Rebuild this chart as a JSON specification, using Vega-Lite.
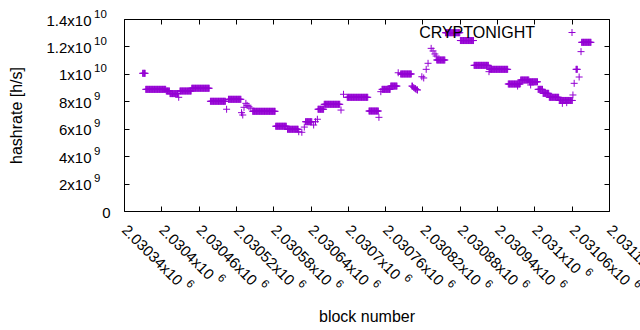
{
"$schema": "https://vega.github.io/schema/vega-lite/v6.json",
"width": 485, "height": 192,
"autosize": "none",
"padding": {"left": 124, "top": 19, "right": 31, "bottom": 119},
"background": "white",
"config": {
  "font": "Liberation Sans",
  "view": {"stroke": "black", "strokeWidth": 1},
  "axis": {"domain": false, "grid": false, "tickColor": "black", "tickSize": -5, "tickWidth": 1,
           "labelColor": "black", "labelFont": "Liberation Sans", "labelFontSize": 15, "labelFlush": false, "labelOverlap": false, "labelBound": false,
           "titleColor": "black", "titleFont": "Liberation Sans", "titleFontSize": 16, "titleFontWeight": "normal"}
},
"data": {"values": [
{"block":2030370,"hashrate":1.004e10},{"block":2030371,"hashrate":1.004e10},{"block":2030372,"hashrate":1.004e10},{"block":2030373,"hashrate":1.004e10},{"block":2030374,"hashrate":1.004e10},
{"block":2030375,"hashrate":8.87e9},{"block":2030376,"hashrate":8.87e9},{"block":2030377,"hashrate":8.87e9},{"block":2030378,"hashrate":8.87e9},{"block":2030379,"hashrate":8.87e9},{"block":2030380,"hashrate":8.87e9},{"block":2030381,"hashrate":8.87e9},{"block":2030382,"hashrate":8.87e9},{"block":2030383,"hashrate":8.87e9},{"block":2030384,"hashrate":8.87e9},{"block":2030385,"hashrate":8.87e9},{"block":2030386,"hashrate":8.87e9},{"block":2030387,"hashrate":8.87e9},{"block":2030388,"hashrate":8.87e9},{"block":2030389,"hashrate":8.87e9},{"block":2030390,"hashrate":8.87e9},{"block":2030391,"hashrate":8.87e9},{"block":2030392,"hashrate":8.87e9},{"block":2030393,"hashrate":8.87e9},{"block":2030394,"hashrate":8.87e9},{"block":2030395,"hashrate":8.87e9},{"block":2030396,"hashrate":8.87e9},{"block":2030397,"hashrate":8.87e9},{"block":2030398,"hashrate":8.87e9},{"block":2030399,"hashrate":8.87e9},{"block":2030400,"hashrate":8.87e9},{"block":2030401,"hashrate":8.87e9},{"block":2030402,"hashrate":8.87e9},{"block":2030403,"hashrate":8.87e9},{"block":2030404,"hashrate":8.87e9},{"block":2030405,"hashrate":8.87e9},{"block":2030406,"hashrate":8.87e9},{"block":2030407,"hashrate":8.87e9},
{"block":2030408,"hashrate":8.75e9},{"block":2030409,"hashrate":8.75e9},{"block":2030410,"hashrate":8.75e9},{"block":2030411,"hashrate":8.75e9},{"block":2030412,"hashrate":8.75e9},{"block":2030413,"hashrate":8.75e9},
{"block":2030414,"hashrate":8.56e9},{"block":2030415,"hashrate":8.56e9},{"block":2030416,"hashrate":8.56e9},{"block":2030417,"hashrate":8.56e9},{"block":2030418,"hashrate":8.56e9},{"block":2030419,"hashrate":8.56e9},{"block":2030420,"hashrate":8.56e9},{"block":2030421,"hashrate":8.56e9},{"block":2030422,"hashrate":8.56e9},{"block":2030423,"hashrate":8.56e9},{"block":2030424,"hashrate":8.56e9},{"block":2030425,"hashrate":8.56e9},{"block":2030426,"hashrate":8.56e9},{"block":2030427,"hashrate":8.56e9},
{"block":2030428,"hashrate":8.29e9},
{"block":2030430,"hashrate":8.75e9},{"block":2030431,"hashrate":8.75e9},{"block":2030432,"hashrate":8.75e9},{"block":2030433,"hashrate":8.75e9},{"block":2030434,"hashrate":8.75e9},{"block":2030435,"hashrate":8.75e9},{"block":2030436,"hashrate":8.75e9},{"block":2030437,"hashrate":8.75e9},{"block":2030438,"hashrate":8.75e9},{"block":2030439,"hashrate":8.75e9},{"block":2030440,"hashrate":8.75e9},{"block":2030441,"hashrate":8.75e9},{"block":2030442,"hashrate":8.75e9},{"block":2030443,"hashrate":8.75e9},{"block":2030444,"hashrate":8.75e9},{"block":2030445,"hashrate":8.75e9},{"block":2030446,"hashrate":8.75e9},{"block":2030447,"hashrate":8.75e9},{"block":2030448,"hashrate":8.75e9},
{"block":2030449,"hashrate":8.95e9},{"block":2030450,"hashrate":8.95e9},{"block":2030451,"hashrate":8.95e9},{"block":2030452,"hashrate":8.95e9},{"block":2030453,"hashrate":8.95e9},{"block":2030454,"hashrate":8.95e9},{"block":2030455,"hashrate":8.95e9},{"block":2030456,"hashrate":8.95e9},{"block":2030457,"hashrate":8.95e9},{"block":2030458,"hashrate":8.95e9},{"block":2030459,"hashrate":8.95e9},{"block":2030460,"hashrate":8.95e9},{"block":2030461,"hashrate":8.95e9},{"block":2030462,"hashrate":8.95e9},{"block":2030463,"hashrate":8.95e9},{"block":2030464,"hashrate":8.95e9},{"block":2030465,"hashrate":8.95e9},{"block":2030466,"hashrate":8.95e9},{"block":2030467,"hashrate":8.95e9},{"block":2030468,"hashrate":8.95e9},{"block":2030469,"hashrate":8.95e9},{"block":2030470,"hashrate":8.95e9},{"block":2030471,"hashrate":8.95e9},{"block":2030472,"hashrate":8.95e9},{"block":2030473,"hashrate":8.95e9},{"block":2030474,"hashrate":8.95e9},{"block":2030475,"hashrate":8.95e9},{"block":2030476,"hashrate":8.95e9},{"block":2030477,"hashrate":8.95e9},
{"block":2030479,"hashrate":8.0e9},{"block":2030480,"hashrate":8.0e9},{"block":2030481,"hashrate":8.0e9},{"block":2030482,"hashrate":8.0e9},{"block":2030483,"hashrate":8.0e9},{"block":2030484,"hashrate":8.0e9},{"block":2030485,"hashrate":8.0e9},{"block":2030486,"hashrate":8.0e9},{"block":2030487,"hashrate":8.0e9},{"block":2030488,"hashrate":8.0e9},{"block":2030489,"hashrate":8.0e9},{"block":2030490,"hashrate":8.0e9},{"block":2030491,"hashrate":8.0e9},{"block":2030492,"hashrate":8.0e9},{"block":2030493,"hashrate":8.0e9},{"block":2030494,"hashrate":8.0e9},{"block":2030495,"hashrate":8.0e9},{"block":2030496,"hashrate":8.0e9},{"block":2030497,"hashrate":8.0e9},{"block":2030498,"hashrate":8.0e9},{"block":2030499,"hashrate":8.0e9},{"block":2030500,"hashrate":8.0e9},{"block":2030501,"hashrate":8.0e9},{"block":2030502,"hashrate":8.0e9},{"block":2030503,"hashrate":8.0e9},
{"block":2030505,"hashrate":7.42e9},
{"block":2030508,"hashrate":8.145e9},{"block":2030509,"hashrate":8.145e9},{"block":2030510,"hashrate":8.145e9},{"block":2030511,"hashrate":8.145e9},{"block":2030512,"hashrate":8.145e9},{"block":2030513,"hashrate":8.145e9},{"block":2030514,"hashrate":8.145e9},{"block":2030515,"hashrate":8.145e9},{"block":2030516,"hashrate":8.145e9},{"block":2030517,"hashrate":8.145e9},{"block":2030518,"hashrate":8.145e9},{"block":2030519,"hashrate":8.145e9},{"block":2030520,"hashrate":8.145e9},{"block":2030521,"hashrate":8.145e9},{"block":2030522,"hashrate":8.145e9},{"block":2030523,"hashrate":8.145e9},{"block":2030524,"hashrate":8.145e9},{"block":2030525,"hashrate":8.145e9},{"block":2030526,"hashrate":8.145e9},{"block":2030527,"hashrate":8.145e9},{"block":2030528,"hashrate":8.145e9},
{"block":2030529,"hashrate":7.17e9},{"block":2030531,"hashrate":7.0e9},{"block":2030533,"hashrate":7.56e9},{"block":2030536,"hashrate":7.85e9},{"block":2030538,"hashrate":7.7e9},{"block":2030541,"hashrate":7.6e9},{"block":2030544,"hashrate":7.5e9},
{"block":2030547,"hashrate":7.27e9},{"block":2030548,"hashrate":7.27e9},{"block":2030549,"hashrate":7.27e9},{"block":2030550,"hashrate":7.27e9},{"block":2030551,"hashrate":7.27e9},{"block":2030552,"hashrate":7.27e9},{"block":2030553,"hashrate":7.27e9},{"block":2030554,"hashrate":7.27e9},{"block":2030555,"hashrate":7.27e9},{"block":2030556,"hashrate":7.27e9},{"block":2030557,"hashrate":7.27e9},{"block":2030558,"hashrate":7.27e9},{"block":2030559,"hashrate":7.27e9},{"block":2030560,"hashrate":7.27e9},{"block":2030561,"hashrate":7.27e9},{"block":2030562,"hashrate":7.27e9},{"block":2030563,"hashrate":7.27e9},{"block":2030564,"hashrate":7.27e9},{"block":2030565,"hashrate":7.27e9},{"block":2030566,"hashrate":7.27e9},{"block":2030567,"hashrate":7.27e9},{"block":2030568,"hashrate":7.27e9},{"block":2030569,"hashrate":7.27e9},{"block":2030570,"hashrate":7.27e9},{"block":2030571,"hashrate":7.27e9},{"block":2030572,"hashrate":7.27e9},{"block":2030573,"hashrate":7.27e9},{"block":2030574,"hashrate":7.27e9},{"block":2030575,"hashrate":7.27e9},{"block":2030576,"hashrate":7.27e9},{"block":2030577,"hashrate":7.27e9},{"block":2030578,"hashrate":7.27e9},{"block":2030579,"hashrate":7.27e9},{"block":2030580,"hashrate":7.27e9},{"block":2030581,"hashrate":7.27e9},{"block":2030582,"hashrate":7.27e9},{"block":2030583,"hashrate":7.27e9},
{"block":2030584,"hashrate":6.18e9},{"block":2030585,"hashrate":6.18e9},{"block":2030586,"hashrate":6.18e9},{"block":2030587,"hashrate":6.18e9},{"block":2030588,"hashrate":6.18e9},{"block":2030589,"hashrate":6.18e9},{"block":2030590,"hashrate":6.18e9},{"block":2030591,"hashrate":6.18e9},{"block":2030592,"hashrate":6.18e9},{"block":2030593,"hashrate":6.18e9},{"block":2030594,"hashrate":6.18e9},{"block":2030595,"hashrate":6.18e9},{"block":2030596,"hashrate":6.18e9},{"block":2030597,"hashrate":6.18e9},{"block":2030598,"hashrate":6.18e9},{"block":2030599,"hashrate":6.18e9},{"block":2030600,"hashrate":6.18e9},{"block":2030601,"hashrate":6.18e9},
{"block":2030603,"hashrate":5.96e9},{"block":2030604,"hashrate":5.96e9},{"block":2030605,"hashrate":5.96e9},{"block":2030606,"hashrate":5.96e9},{"block":2030607,"hashrate":5.96e9},{"block":2030608,"hashrate":5.96e9},{"block":2030609,"hashrate":5.96e9},{"block":2030610,"hashrate":5.96e9},{"block":2030611,"hashrate":5.96e9},{"block":2030612,"hashrate":5.96e9},{"block":2030613,"hashrate":5.96e9},{"block":2030614,"hashrate":5.96e9},{"block":2030615,"hashrate":5.96e9},{"block":2030616,"hashrate":5.96e9},{"block":2030617,"hashrate":5.96e9},{"block":2030618,"hashrate":5.96e9},{"block":2030619,"hashrate":5.96e9},{"block":2030620,"hashrate":5.96e9},
{"block":2030621,"hashrate":5.78e9},{"block":2030626,"hashrate":5.74e9},{"block":2030630,"hashrate":6.12e9},
{"block":2030632,"hashrate":6.51e9},{"block":2030633,"hashrate":6.51e9},{"block":2030634,"hashrate":6.51e9},{"block":2030635,"hashrate":6.51e9},{"block":2030636,"hashrate":6.51e9},{"block":2030637,"hashrate":6.51e9},{"block":2030638,"hashrate":6.51e9},{"block":2030639,"hashrate":6.51e9},{"block":2030640,"hashrate":6.51e9},{"block":2030641,"hashrate":6.51e9},{"block":2030642,"hashrate":6.51e9},
{"block":2030645,"hashrate":6.27e9},{"block":2030648,"hashrate":6.51e9},{"block":2030651,"hashrate":6.69e9},
{"block":2030652,"hashrate":7.42e9},{"block":2030653,"hashrate":7.42e9},{"block":2030654,"hashrate":7.42e9},{"block":2030655,"hashrate":7.42e9},{"block":2030656,"hashrate":7.42e9},{"block":2030657,"hashrate":7.42e9},{"block":2030658,"hashrate":7.42e9},{"block":2030659,"hashrate":7.42e9},{"block":2030660,"hashrate":7.42e9},{"block":2030661,"hashrate":7.42e9},
{"block":2030662,"hashrate":7.78e9},{"block":2030663,"hashrate":7.78e9},{"block":2030664,"hashrate":7.78e9},{"block":2030665,"hashrate":7.78e9},{"block":2030666,"hashrate":7.78e9},{"block":2030667,"hashrate":7.78e9},{"block":2030668,"hashrate":7.78e9},{"block":2030669,"hashrate":7.78e9},{"block":2030670,"hashrate":7.78e9},{"block":2030671,"hashrate":7.78e9},{"block":2030672,"hashrate":7.78e9},{"block":2030673,"hashrate":7.78e9},{"block":2030674,"hashrate":7.78e9},{"block":2030675,"hashrate":7.78e9},{"block":2030676,"hashrate":7.78e9},{"block":2030677,"hashrate":7.78e9},{"block":2030678,"hashrate":7.78e9},{"block":2030679,"hashrate":7.78e9},{"block":2030680,"hashrate":7.78e9},{"block":2030681,"hashrate":7.78e9},{"block":2030682,"hashrate":7.78e9},{"block":2030683,"hashrate":7.78e9},{"block":2030684,"hashrate":7.78e9},{"block":2030685,"hashrate":7.78e9},{"block":2030686,"hashrate":7.78e9},{"block":2030687,"hashrate":7.78e9},
{"block":2030689,"hashrate":7.36e9},{"block":2030693,"hashrate":8.51e9},
{"block":2030699,"hashrate":8.29e9},{"block":2030700,"hashrate":8.29e9},{"block":2030701,"hashrate":8.29e9},{"block":2030702,"hashrate":8.29e9},{"block":2030703,"hashrate":8.29e9},{"block":2030704,"hashrate":8.29e9},{"block":2030705,"hashrate":8.29e9},{"block":2030706,"hashrate":8.29e9},{"block":2030707,"hashrate":8.29e9},{"block":2030708,"hashrate":8.29e9},{"block":2030709,"hashrate":8.29e9},{"block":2030710,"hashrate":8.29e9},{"block":2030711,"hashrate":8.29e9},{"block":2030712,"hashrate":8.29e9},{"block":2030713,"hashrate":8.29e9},{"block":2030714,"hashrate":8.29e9},{"block":2030715,"hashrate":8.29e9},{"block":2030716,"hashrate":8.29e9},{"block":2030717,"hashrate":8.29e9},{"block":2030718,"hashrate":8.29e9},{"block":2030719,"hashrate":8.29e9},{"block":2030720,"hashrate":8.29e9},{"block":2030721,"hashrate":8.29e9},{"block":2030722,"hashrate":8.29e9},{"block":2030723,"hashrate":8.29e9},{"block":2030724,"hashrate":8.29e9},{"block":2030725,"hashrate":8.29e9},{"block":2030726,"hashrate":8.29e9},{"block":2030727,"hashrate":8.29e9},{"block":2030728,"hashrate":8.29e9},{"block":2030729,"hashrate":8.29e9},{"block":2030730,"hashrate":8.29e9},{"block":2030731,"hashrate":8.29e9},{"block":2030732,"hashrate":8.29e9},
{"block":2030734,"hashrate":7.29e9},{"block":2030735,"hashrate":7.29e9},{"block":2030736,"hashrate":7.29e9},{"block":2030737,"hashrate":7.29e9},{"block":2030738,"hashrate":7.29e9},{"block":2030739,"hashrate":7.29e9},{"block":2030740,"hashrate":7.29e9},{"block":2030741,"hashrate":7.29e9},{"block":2030742,"hashrate":7.29e9},{"block":2030743,"hashrate":7.29e9},{"block":2030744,"hashrate":7.29e9},{"block":2030745,"hashrate":7.29e9},{"block":2030746,"hashrate":7.29e9},{"block":2030747,"hashrate":7.29e9},{"block":2030748,"hashrate":7.29e9},{"block":2030749,"hashrate":7.29e9},
{"block":2030750,"hashrate":6.83e9},{"block":2030753,"hashrate":8.7e9},
{"block":2030755,"hashrate":8.87e9},{"block":2030756,"hashrate":8.87e9},{"block":2030757,"hashrate":8.87e9},{"block":2030758,"hashrate":8.87e9},{"block":2030759,"hashrate":8.87e9},{"block":2030760,"hashrate":8.87e9},{"block":2030761,"hashrate":8.87e9},{"block":2030762,"hashrate":8.87e9},{"block":2030763,"hashrate":8.87e9},{"block":2030764,"hashrate":8.87e9},{"block":2030765,"hashrate":8.87e9},{"block":2030766,"hashrate":8.87e9},{"block":2030767,"hashrate":8.87e9},{"block":2030768,"hashrate":8.87e9},
{"block":2030769,"hashrate":9.11e9},{"block":2030770,"hashrate":9.11e9},{"block":2030771,"hashrate":9.11e9},{"block":2030772,"hashrate":9.11e9},{"block":2030773,"hashrate":9.11e9},{"block":2030774,"hashrate":9.11e9},{"block":2030775,"hashrate":9.11e9},{"block":2030776,"hashrate":9.11e9},{"block":2030777,"hashrate":9.11e9},{"block":2030778,"hashrate":9.11e9},{"block":2030779,"hashrate":9.11e9},
{"block":2030781,"hashrate":1.008e10},
{"block":2030785,"hashrate":9.99e9},{"block":2030786,"hashrate":9.99e9},{"block":2030787,"hashrate":9.99e9},{"block":2030788,"hashrate":9.99e9},{"block":2030789,"hashrate":9.99e9},{"block":2030790,"hashrate":9.99e9},{"block":2030791,"hashrate":9.99e9},{"block":2030792,"hashrate":9.99e9},{"block":2030793,"hashrate":9.99e9},{"block":2030794,"hashrate":9.99e9},{"block":2030795,"hashrate":9.99e9},{"block":2030796,"hashrate":9.99e9},{"block":2030797,"hashrate":9.99e9},{"block":2030798,"hashrate":9.99e9},{"block":2030799,"hashrate":9.99e9},{"block":2030800,"hashrate":9.99e9},{"block":2030801,"hashrate":9.99e9},{"block":2030802,"hashrate":9.99e9},
{"block":2030803,"hashrate":9.11e9},{"block":2030804,"hashrate":9.1e9},{"block":2030806,"hashrate":9.0e9},{"block":2030808,"hashrate":8.93e9},{"block":2030809,"hashrate":8.9e9},{"block":2030811,"hashrate":8.85e9},{"block":2030812,"hashrate":8.82e9},
{"block":2030819,"hashrate":9.79e9},{"block":2030822,"hashrate":9.7e9},{"block":2030826,"hashrate":1.033e10},{"block":2030829,"hashrate":1.077e10},
{"block":2030834,"hashrate":1.186e10},{"block":2030837,"hashrate":1.167e10},{"block":2030840,"hashrate":1.145e10},{"block":2030842,"hashrate":1.13e10},
{"block":2030843,"hashrate":1.101e10},{"block":2030844,"hashrate":1.101e10},{"block":2030845,"hashrate":1.101e10},{"block":2030846,"hashrate":1.101e10},{"block":2030847,"hashrate":1.101e10},{"block":2030848,"hashrate":1.101e10},{"block":2030849,"hashrate":1.101e10},{"block":2030850,"hashrate":1.101e10},{"block":2030851,"hashrate":1.101e10},{"block":2030852,"hashrate":1.101e10},{"block":2030853,"hashrate":1.101e10},{"block":2030854,"hashrate":1.101e10},{"block":2030855,"hashrate":1.101e10},{"block":2030856,"hashrate":1.101e10},
{"block":2030857,"hashrate":1.3e10},{"block":2030858,"hashrate":1.3e10},{"block":2030859,"hashrate":1.3e10},{"block":2030860,"hashrate":1.3e10},{"block":2030861,"hashrate":1.3e10},{"block":2030862,"hashrate":1.3e10},{"block":2030863,"hashrate":1.3e10},{"block":2030864,"hashrate":1.3e10},{"block":2030865,"hashrate":1.3e10},{"block":2030866,"hashrate":1.3e10},{"block":2030867,"hashrate":1.3e10},{"block":2030868,"hashrate":1.3e10},{"block":2030869,"hashrate":1.3e10},{"block":2030870,"hashrate":1.3e10},{"block":2030871,"hashrate":1.3e10},{"block":2030872,"hashrate":1.3e10},{"block":2030873,"hashrate":1.3e10},{"block":2030874,"hashrate":1.3e10},{"block":2030875,"hashrate":1.3e10},{"block":2030876,"hashrate":1.3e10},{"block":2030877,"hashrate":1.3e10},{"block":2030878,"hashrate":1.3e10},{"block":2030879,"hashrate":1.3e10},{"block":2030880,"hashrate":1.3e10},
{"block":2030881,"hashrate":1.243e10},{"block":2030882,"hashrate":1.243e10},{"block":2030883,"hashrate":1.243e10},{"block":2030884,"hashrate":1.243e10},{"block":2030885,"hashrate":1.243e10},{"block":2030886,"hashrate":1.243e10},{"block":2030887,"hashrate":1.243e10},{"block":2030888,"hashrate":1.243e10},{"block":2030889,"hashrate":1.243e10},{"block":2030890,"hashrate":1.243e10},{"block":2030891,"hashrate":1.243e10},{"block":2030892,"hashrate":1.243e10},{"block":2030893,"hashrate":1.243e10},{"block":2030894,"hashrate":1.243e10},{"block":2030895,"hashrate":1.243e10},{"block":2030896,"hashrate":1.243e10},{"block":2030897,"hashrate":1.243e10},{"block":2030898,"hashrate":1.243e10},{"block":2030899,"hashrate":1.243e10},{"block":2030900,"hashrate":1.243e10},{"block":2030901,"hashrate":1.243e10},{"block":2030902,"hashrate":1.243e10},
{"block":2030903,"hashrate":1.062e10},{"block":2030904,"hashrate":1.062e10},{"block":2030905,"hashrate":1.062e10},{"block":2030906,"hashrate":1.062e10},{"block":2030907,"hashrate":1.062e10},{"block":2030908,"hashrate":1.062e10},{"block":2030909,"hashrate":1.062e10},{"block":2030910,"hashrate":1.062e10},{"block":2030911,"hashrate":1.062e10},{"block":2030912,"hashrate":1.062e10},{"block":2030913,"hashrate":1.062e10},{"block":2030914,"hashrate":1.062e10},{"block":2030915,"hashrate":1.062e10},{"block":2030916,"hashrate":1.062e10},{"block":2030917,"hashrate":1.062e10},{"block":2030918,"hashrate":1.062e10},{"block":2030919,"hashrate":1.062e10},{"block":2030920,"hashrate":1.062e10},{"block":2030921,"hashrate":1.062e10},{"block":2030922,"hashrate":1.062e10},{"block":2030923,"hashrate":1.062e10},{"block":2030924,"hashrate":1.062e10},{"block":2030925,"hashrate":1.062e10},{"block":2030926,"hashrate":1.062e10},
{"block":2030927,"hashrate":1.016e10},
{"block":2030928,"hashrate":1.033e10},{"block":2030929,"hashrate":1.033e10},{"block":2030930,"hashrate":1.033e10},{"block":2030931,"hashrate":1.033e10},{"block":2030932,"hashrate":1.033e10},{"block":2030933,"hashrate":1.033e10},{"block":2030934,"hashrate":1.033e10},{"block":2030935,"hashrate":1.033e10},{"block":2030936,"hashrate":1.033e10},{"block":2030937,"hashrate":1.033e10},{"block":2030938,"hashrate":1.033e10},{"block":2030939,"hashrate":1.033e10},{"block":2030940,"hashrate":1.033e10},{"block":2030941,"hashrate":1.033e10},{"block":2030942,"hashrate":1.033e10},{"block":2030943,"hashrate":1.033e10},{"block":2030944,"hashrate":1.033e10},{"block":2030945,"hashrate":1.033e10},{"block":2030946,"hashrate":1.033e10},{"block":2030947,"hashrate":1.033e10},{"block":2030948,"hashrate":1.033e10},{"block":2030949,"hashrate":1.033e10},{"block":2030950,"hashrate":1.033e10},{"block":2030951,"hashrate":1.033e10},{"block":2030952,"hashrate":1.033e10},{"block":2030953,"hashrate":1.033e10},{"block":2030954,"hashrate":1.033e10},{"block":2030955,"hashrate":1.033e10},{"block":2030956,"hashrate":1.033e10},{"block":2030957,"hashrate":1.033e10},
{"block":2030958,"hashrate":9.26e9},{"block":2030959,"hashrate":9.26e9},{"block":2030960,"hashrate":9.26e9},{"block":2030961,"hashrate":9.26e9},{"block":2030962,"hashrate":9.26e9},{"block":2030963,"hashrate":9.26e9},{"block":2030964,"hashrate":9.26e9},{"block":2030965,"hashrate":9.26e9},{"block":2030966,"hashrate":9.26e9},{"block":2030967,"hashrate":9.26e9},{"block":2030968,"hashrate":9.26e9},{"block":2030969,"hashrate":9.26e9},{"block":2030970,"hashrate":9.26e9},{"block":2030971,"hashrate":9.26e9},{"block":2030972,"hashrate":9.26e9},{"block":2030973,"hashrate":9.26e9},{"block":2030974,"hashrate":9.26e9},{"block":2030975,"hashrate":9.26e9},{"block":2030976,"hashrate":9.26e9},{"block":2030977,"hashrate":9.26e9},{"block":2030973,"hashrate":9.11e9},
{"block":2030978,"hashrate":9.55e9},{"block":2030979,"hashrate":9.55e9},{"block":2030980,"hashrate":9.55e9},{"block":2030981,"hashrate":9.55e9},{"block":2030982,"hashrate":9.55e9},{"block":2030983,"hashrate":9.55e9},{"block":2030984,"hashrate":9.55e9},{"block":2030985,"hashrate":9.55e9},{"block":2030986,"hashrate":9.55e9},{"block":2030987,"hashrate":9.55e9},{"block":2030988,"hashrate":9.55e9},{"block":2030989,"hashrate":9.55e9},{"block":2030990,"hashrate":9.55e9},{"block":2030991,"hashrate":9.55e9},
{"block":2030992,"hashrate":9.42e9},{"block":2030993,"hashrate":9.42e9},{"block":2030994,"hashrate":9.42e9},{"block":2030995,"hashrate":9.42e9},{"block":2030996,"hashrate":9.42e9},{"block":2030997,"hashrate":9.42e9},{"block":2030998,"hashrate":9.42e9},{"block":2030999,"hashrate":9.42e9},{"block":2031000,"hashrate":9.42e9},{"block":2031001,"hashrate":9.42e9},{"block":2031002,"hashrate":9.42e9},{"block":2031003,"hashrate":9.42e9},{"block":2031004,"hashrate":9.42e9},{"block":2031005,"hashrate":9.42e9},{"block":2030994,"hashrate":9.19e9},
{"block":2031006,"hashrate":8.87e9},{"block":2031007,"hashrate":8.87e9},{"block":2031008,"hashrate":8.87e9},{"block":2031009,"hashrate":8.87e9},{"block":2031010,"hashrate":8.87e9},{"block":2031011,"hashrate":8.87e9},{"block":2031012,"hashrate":8.87e9},{"block":2031013,"hashrate":8.87e9},
{"block":2031014,"hashrate":8.58e9},{"block":2031015,"hashrate":8.58e9},{"block":2031016,"hashrate":8.58e9},{"block":2031017,"hashrate":8.58e9},{"block":2031018,"hashrate":8.58e9},{"block":2031019,"hashrate":8.58e9},{"block":2031020,"hashrate":8.58e9},{"block":2031021,"hashrate":8.58e9},{"block":2031022,"hashrate":8.58e9},{"block":2031023,"hashrate":8.58e9},
{"block":2031024,"hashrate":8.29e9},{"block":2031025,"hashrate":8.29e9},{"block":2031026,"hashrate":8.29e9},{"block":2031027,"hashrate":8.29e9},{"block":2031028,"hashrate":8.29e9},{"block":2031029,"hashrate":8.29e9},{"block":2031030,"hashrate":8.29e9},{"block":2031031,"hashrate":8.29e9},{"block":2031032,"hashrate":8.29e9},{"block":2031033,"hashrate":8.29e9},{"block":2031034,"hashrate":8.29e9},{"block":2031035,"hashrate":8.29e9},{"block":2031036,"hashrate":8.29e9},{"block":2031037,"hashrate":8.29e9},{"block":2031038,"hashrate":8.29e9},{"block":2031039,"hashrate":8.29e9},
{"block":2031040,"hashrate":8.06e9},{"block":2031041,"hashrate":8.06e9},{"block":2031042,"hashrate":8.06e9},{"block":2031043,"hashrate":8.06e9},{"block":2031044,"hashrate":8.06e9},{"block":2031045,"hashrate":8.06e9},{"block":2031046,"hashrate":8.06e9},{"block":2031047,"hashrate":8.06e9},{"block":2031048,"hashrate":8.06e9},{"block":2031049,"hashrate":8.06e9},{"block":2031050,"hashrate":8.06e9},{"block":2031051,"hashrate":8.06e9},{"block":2031052,"hashrate":8.06e9},{"block":2031053,"hashrate":8.06e9},{"block":2031054,"hashrate":8.06e9},{"block":2031055,"hashrate":8.06e9},{"block":2031056,"hashrate":8.06e9},{"block":2031057,"hashrate":8.06e9},{"block":2031058,"hashrate":8.06e9},{"block":2031059,"hashrate":8.06e9},{"block":2031060,"hashrate":8.06e9},{"block":2031061,"hashrate":8.06e9},{"block":2031045,"hashrate":7.85e9},{"block":2031052,"hashrate":7.9e9},
{"block":2031062,"hashrate":8.46e9},{"block":2031064,"hashrate":9.31e9},{"block":2031067,"hashrate":1.033e10},{"block":2031068,"hashrate":1.033e10},{"block":2031069,"hashrate":1.033e10},{"block":2031072,"hashrate":9.77e9},{"block":2031075,"hashrate":1.162e10},
{"block":2031076,"hashrate":1.23e10},{"block":2031077,"hashrate":1.23e10},{"block":2031078,"hashrate":1.23e10},{"block":2031079,"hashrate":1.23e10},{"block":2031080,"hashrate":1.23e10},{"block":2031081,"hashrate":1.23e10},{"block":2031082,"hashrate":1.23e10},{"block":2031083,"hashrate":1.23e10},{"block":2031084,"hashrate":1.23e10},{"block":2031085,"hashrate":1.23e10},{"block":2031086,"hashrate":1.23e10},{"block":2031087,"hashrate":1.23e10},{"block":2031088,"hashrate":1.23e10},{"block":2031089,"hashrate":1.23e10},{"block":2031090,"hashrate":1.23e10},{"block":2031091,"hashrate":1.23e10}
]},
"layer": [
  {
    "mark": {"type": "point", "shape": "M-1,0H1M0,-1V1", "size": 49, "filled": false, "strokeWidth": 1, "opacity": 1},
    "encoding": {
      "x": {"field": "block", "type": "quantitative", "scale": {"domain": [2030340, 2031120], "nice": false, "zero": false},
            "axis": {"orient": "bottom", "title": "block number", "values": [2030340,2030400,2030460,2030520,2030580,2030640,2030700,2030760,2030820,2030880,2030940,2031000,2031060,2031120],
                     "labelExpr": "format(datum.value/1000000, '.7~g') + 'x10'",
                     "labelAngle": 45, "labelAlign": "left", "labelBaseline": "middle", "labelPadding": 21,
                     "titleY": 110, "titleBaseline": "alphabetic"}},
      "y": {"field": "hashrate", "type": "quantitative", "scale": {"domain": [0, 14000000000], "nice": false},
            "axis": {"orient": "left", "title": "hashrate [h/s]", "values": [0,2000000000,4000000000,6000000000,8000000000,10000000000,12000000000,14000000000],
                     "labelExpr": "datum.value == 0 ? '' : (datum.value < 10000000000 ? format(datum.value/1000000000, '~g') + 'x10' : format(datum.value/10000000000, '.2~g') + 'x10')",
                     "labelPadding": 38, "labelOffset": 1,
                     "titleX": -108, "titleBaseline": "middle"}},
      "color": {"datum": "CRYPTONIGHT", "type": "nominal", "scale": {"range": ["#9400d3"]},
                "legend": {"title": null, "orient": "none", "legendX": 440, "legendY": 5.5, "padding": 0,
                           "symbolType": "M-1,0H1M0,-1V1", "symbolSize": 49, "symbolStrokeWidth": 1,
                           "labelFontSize": 16, "labelColor": "black", "labelFont": "Liberation Sans", "labelAlign": "right", "labelOffset": -45}}
    }
  },
  {
    "mark": {"type": "point", "opacity": 0},
    "encoding": {
      "x": {"field": "block", "type": "quantitative",
            "axis": {"orient": "top", "title": null, "labels": false, "values": [2030340,2030400,2030460,2030520,2030580,2030640,2030700,2030760,2030820,2030880,2030940,2031000,2031060,2031120]}},
      "y": {"field": "hashrate", "type": "quantitative",
            "axis": {"orient": "right", "title": null, "labels": false, "values": [0,2000000000,4000000000,6000000000,8000000000,10000000000,12000000000,14000000000]}}
    }
  },
  {
    "mark": {"type": "point", "opacity": 0},
    "encoding": {
      "x": {"field": "block", "type": "quantitative",
            "axis": {"orient": "bottom", "title": null, "ticks": false, "labelFontSize": 11.5, "values": [2030340,2030460,2030520,2030580,2030640,2030760,2030820,2030880,2030940,2031060,2031120],
                     "labelExpr": "'6'", "labelAngle": 45, "labelAlign": "left", "labelBaseline": "middle", "labelPadding": 70.7, "labelOffset": 63.2}},
      "y": {"field": "hashrate", "type": "quantitative",
            "axis": {"orient": "left", "title": null, "ticks": false, "labelFontSize": 11.5, "values": [2000000000,4000000000,6000000000,8000000000,10000000000,12000000000,14000000000],
                     "labelExpr": "datum.value < 10000000000 ? '9' : '10'",
                     "labelAlign": "left", "labelPadding": 30.5, "labelOffset": -5}}
    }
  },
  {
    "mark": {"type": "point", "opacity": 0},
    "encoding": {
      "x": {"field": "block", "type": "quantitative",
            "axis": {"orient": "bottom", "title": null, "ticks": false, "labelFontSize": 11.5, "values": [2030400,2030700],
                     "labelExpr": "'6'", "labelAngle": 45, "labelAlign": "left", "labelBaseline": "middle", "labelPadding": 64.8, "labelOffset": 57.3}},
      "y": {"field": "hashrate", "type": "quantitative",
            "axis": {"orient": "left", "title": null, "ticks": false, "values": [0],
                     "labelExpr": "'0'", "labelAlign": "right", "labelPadding": 14, "labelOffset": 1}}
    }
  },
  {
    "mark": {"type": "point", "opacity": 0},
    "encoding": {
      "x": {"field": "block", "type": "quantitative",
            "axis": {"orient": "bottom", "title": null, "ticks": false, "labelFontSize": 11.5, "values": [2031000],
                     "labelExpr": "'6'", "labelAngle": 45, "labelAlign": "left", "labelBaseline": "middle", "labelPadding": 58.9, "labelOffset": 51.4}},
      "y": {"field": "hashrate", "type": "quantitative", "axis": null}
    }
  }
],
"resolve": {"axis": {"x": "independent", "y": "independent"}}
}
